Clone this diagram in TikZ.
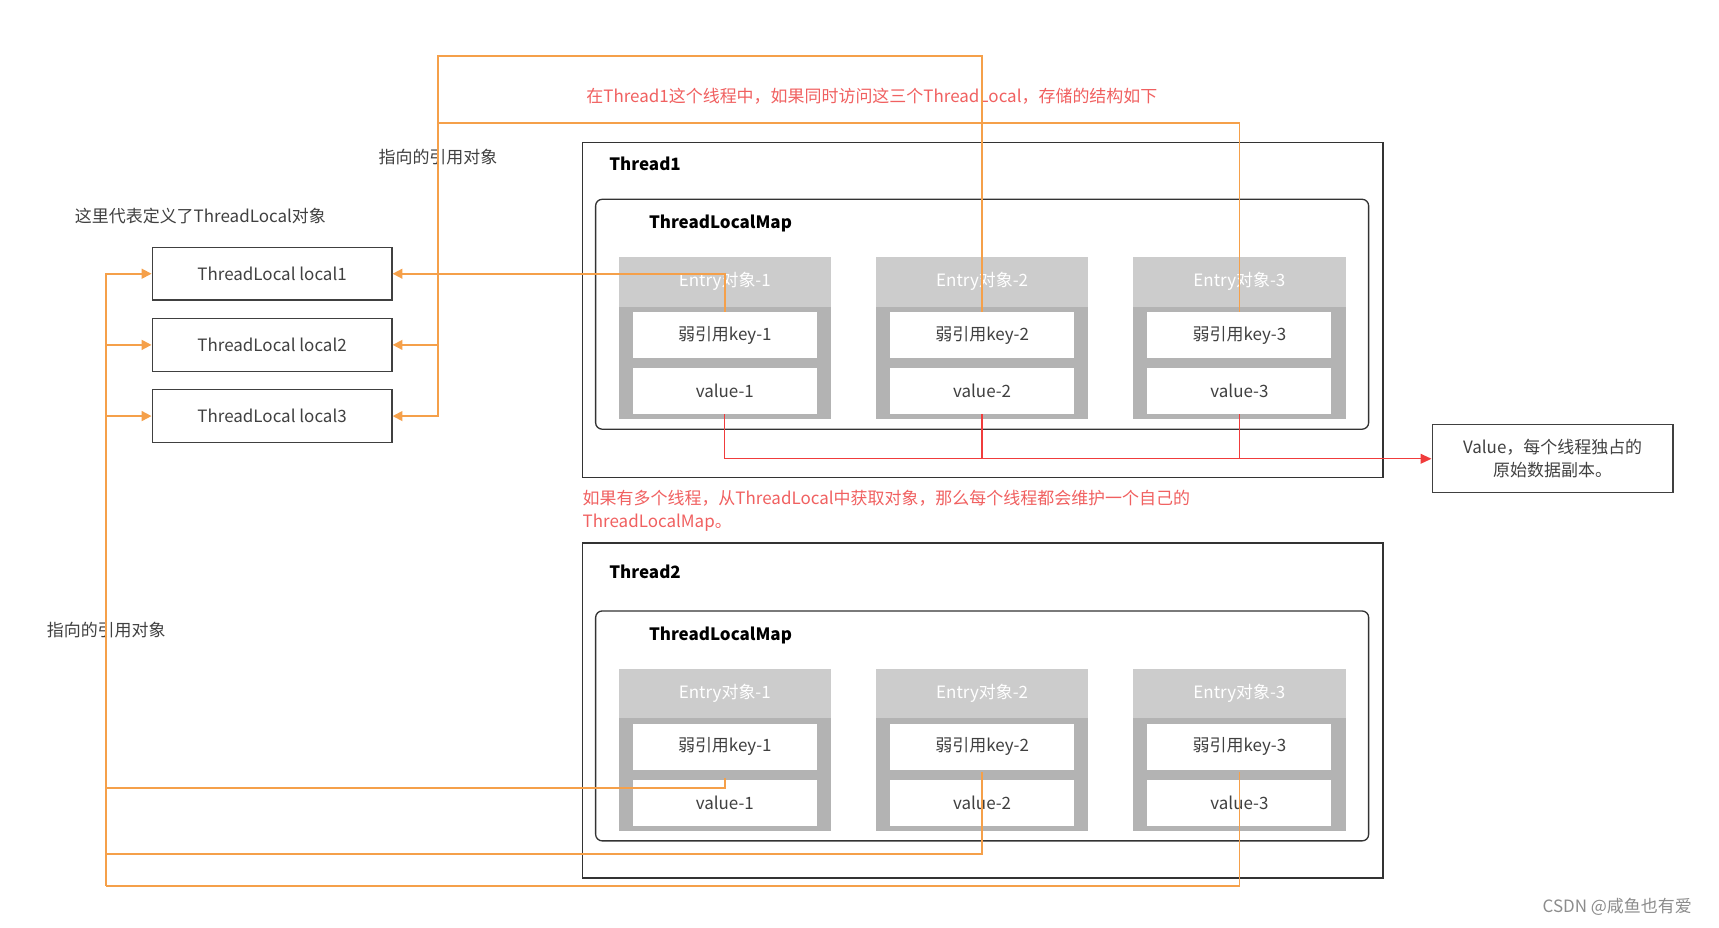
\documentclass[tikz,border=0pt]{standalone}
\usepackage{fontspec}
\setmainfont{Noto Sans CJK SC}
\usetikzlibrary{arrows.meta}
\definecolor{org}{HTML}{F5A04A}
\definecolor{rd}{HTML}{F03C3C}
\definecolor{txtred}{HTML}{F06060}
\definecolor{hdr}{HTML}{CCCCCC}
\definecolor{bdy}{HTML}{B3B3B3}
\tikzset{
  every node/.style={font=\fontsize{15.5}{21}\selectfont, text=black!75},
  tl/.style={draw=black!75, line width=1.2pt, minimum width=219pt, minimum height=48pt},
  frame/.style={draw=black!80, line width=1.2pt},
  cell/.style={fill=white, minimum width=168pt, minimum height=42pt},
  olink/.style={draw=org, line width=1.6pt},
  oarr/.style={olink, -{Triangle[length=9pt,width=9pt]}},
  rlink/.style={draw=rd, line width=1.2pt},
  bold/.style={font=\fontsize{15.5}{19}\selectfont\bfseries, text=black},
}
\begin{document}
\begin{tikzpicture}[x=1pt,y=-1pt]
\useasboundingbox (0,0) rectangle (1570,847);
% texts
\node[text=txtred, anchor=west] (t1) at (532,88) {在Thread1这个线程中，如果同时访问这三个ThreadLocal，存储的结构如下};
\node (p1) at (400,143) {指向的引用对象};
\node (d1) at (183,197) {这里代表定义了ThreadLocal对象};
\node (p2) at (97,575) {指向的引用对象};
\node[text=txtred, align=left, anchor=north west, inner sep=0pt] (t2) at (532,447) {如果有多个线程，从ThreadLocal中获取对象，那么每个线程都会维护一个自己的\\ThreadLocalMap。};
\node[text=black!45] (wm) at (1477,828) {CSDN @咸鱼也有爱};
% threadlocal boxes
\node[tl] (l1) at (248.5,250) {ThreadLocal local1};
\node[tl] (l2) at (248.5,315) {ThreadLocal local2};
\node[tl] (l3) at (248.5,380) {ThreadLocal local3};
% threads
\foreach \n/\y/\f/\g in {1/0/0/0,2/376/366/372}{
  \draw[frame] (532,130+\f) rectangle (1263,436+\f);
  \draw[frame, rounded corners=6pt] (544,182+\y) rectangle (1250,392+\y);
  \node[bold, anchor=west] (th\n) at (553,150+\g) {Thread\n};
  \node[bold] (m\n) at (658,204+\y) {ThreadLocalMap};
  \foreach \i/\cx in {1/662,2/897,3/1132}{
    \fill[hdr] (\cx-97,235+\y) rectangle (\cx+97,280+\y);
    \fill[bdy] (\cx-97,280+\y) rectangle (\cx+97,383+\y);
    \node[text=white] (e\n\i) at (\cx,257+\y) {Entry对象-\i};
    \node[cell] (k\n\i) at (\cx,306+\y) {弱引用key-\i};
    \node[cell] (v\n\i) at (\cx,357+\y) {value-\i};
  }
}
\node[draw=black!75, line width=1.2pt, minimum width=220pt, minimum height=62pt, align=center] (val) at (1418,419) {Value，每个线程独占的\\原始数据副本。};
% red links
\coordinate (rj) at (662,419);
\draw[rlink] (v11.south) |- (rj);
\draw[rlink] (v12.south) -- (897,419);
\draw[rlink] (v13.south) -- (1132,419);
\draw[rlink, -{Triangle[length=10pt,width=9pt]}] (rj) -- (val.west);
% orange top links
\draw[oarr] (k11.north) |- (l1.east);
\draw[oarr] (k12.north) -- (897,51) -- (400,51) |- (l3.east);
\draw[oarr] (k13.north) -- (1132,112) -- (400,112) |- (l2.east);
% orange bottom links
\coordinate (lb) at (97,809);
\draw[olink] (662,711) -- (662,720) -- (97,720);
\draw[olink] (897,705) -- (897,780) -- (97,780);
\draw[olink] (1132,705) -- (1132,809) -- (lb);
\draw[oarr] (lb) |- (l1.west);
\draw[oarr] (97,315) -- (l2.west);
\draw[oarr] (97,380) -- (l3.west);
\end{tikzpicture}
\end{document}
